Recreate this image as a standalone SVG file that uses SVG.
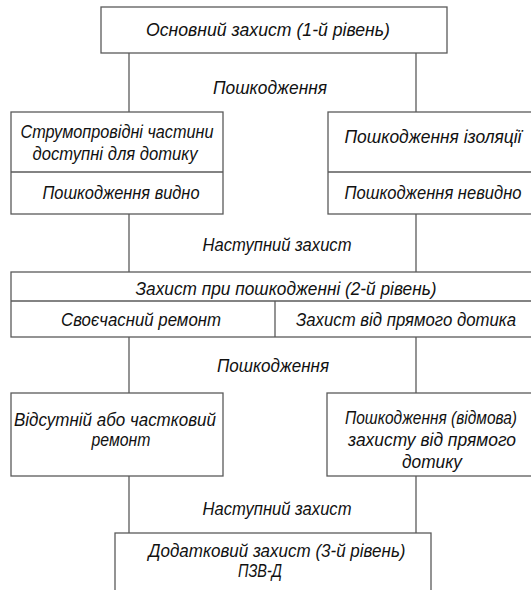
<svg xmlns="http://www.w3.org/2000/svg" width="531" height="590" viewBox="0 0 531 590">
<style>
.box{fill:#fff;stroke:#5a5a5a;stroke-width:1.3}
.ln{stroke:#5a5a5a;stroke-width:1.3;fill:none}
text{font-family:"Liberation Sans",Arial,sans-serif;font-style:italic;font-size:19px;fill:#111;text-anchor:middle}
</style>
<rect width="531" height="590" fill="#fff"/>
<g id="connectors">
<line class="ln" x1="129" y1="53" x2="129" y2="112"/>
<line class="ln" x1="416" y1="53" x2="416" y2="112"/>
<text x="270" y="94" textLength="114" lengthAdjust="spacingAndGlyphs">Пошкодження</text>
<line class="ln" x1="129" y1="214" x2="129" y2="272"/>
<line class="ln" x1="416" y1="214" x2="416" y2="272"/>
<text x="277" y="251" textLength="149" lengthAdjust="spacingAndGlyphs">Наступний захист</text>
<line class="ln" x1="129" y1="337" x2="129" y2="393"/>
<line class="ln" x1="416" y1="337" x2="416" y2="393"/>
<text x="273" y="372" textLength="112" lengthAdjust="spacingAndGlyphs">Пошкодження</text>
<line class="ln" x1="129" y1="476" x2="129" y2="533"/>
<line class="ln" x1="416" y1="476" x2="416" y2="533"/>
<text x="277" y="515" textLength="149" lengthAdjust="spacingAndGlyphs">Наступний захист</text>
</g>
<g id="level1">
<rect class="box" x="101" y="7" width="346" height="46"/>
<text x="268" y="36" textLength="244" lengthAdjust="spacingAndGlyphs">Основний захист (1-й рівень)</text>
</g>
<g id="live-parts">
<rect class="box" x="11" y="112" width="212" height="102"/>
<line class="ln" x1="11" y1="172" x2="223" y2="172"/>
<text x="117" y="138" textLength="193" lengthAdjust="spacingAndGlyphs">Струмопровідні частини</text>
<text x="115" y="160" textLength="165" lengthAdjust="spacingAndGlyphs">доступні для дотику</text>
<text x="121" y="199" textLength="157" lengthAdjust="spacingAndGlyphs">Пошкодження видно</text>
</g>
<g id="insulation">
<rect class="box" x="328" y="112" width="212" height="102"/>
<line class="ln" x1="328" y1="172" x2="540" y2="172"/>
<text x="433" y="143" textLength="177" lengthAdjust="spacingAndGlyphs">Пошкодження ізоляції</text>
<text x="433" y="199" textLength="177" lengthAdjust="spacingAndGlyphs">Пошкодження невидно</text>
</g>
<g id="level2">
<rect class="box" x="11" y="272" width="530" height="65"/>
<line class="ln" x1="11" y1="301" x2="541" y2="301"/>
<line class="ln" x1="275" y1="301" x2="275" y2="337"/>
<text x="286" y="295" textLength="301" lengthAdjust="spacingAndGlyphs">Захист при пошкодженні (2-й рівень)</text>
<text x="141" y="326" textLength="160" lengthAdjust="spacingAndGlyphs">Своєчасний ремонт</text>
<text x="406" y="326" textLength="220" lengthAdjust="spacingAndGlyphs">Захист від прямого дотика</text>
</g>
<g id="repair">
<rect class="box" x="11" y="393" width="212" height="83"/>
<text x="115" y="426" textLength="202" lengthAdjust="spacingAndGlyphs">Відсутній або частковий</text>
<text x="121" y="446" textLength="59" lengthAdjust="spacingAndGlyphs">ремонт</text>
</g>
<g id="direct-contact-failure">
<rect class="box" x="327" y="393" width="213" height="83"/>
<text x="431" y="424" textLength="172" lengthAdjust="spacingAndGlyphs">Пошкодження (відмова)</text>
<text x="432" y="446" textLength="168" lengthAdjust="spacingAndGlyphs">захисту від прямого</text>
<text x="432" y="468" textLength="60" lengthAdjust="spacingAndGlyphs">дотику</text>
</g>
<g id="level3">
<rect class="box" x="115" y="533" width="316" height="70"/>
<text x="277" y="557" textLength="257" lengthAdjust="spacingAndGlyphs">Додатковий захист (3-й рівень)</text>
<text x="260" y="577" textLength="44" lengthAdjust="spacingAndGlyphs">ПЗВ-Д</text>
</g>
</svg>
